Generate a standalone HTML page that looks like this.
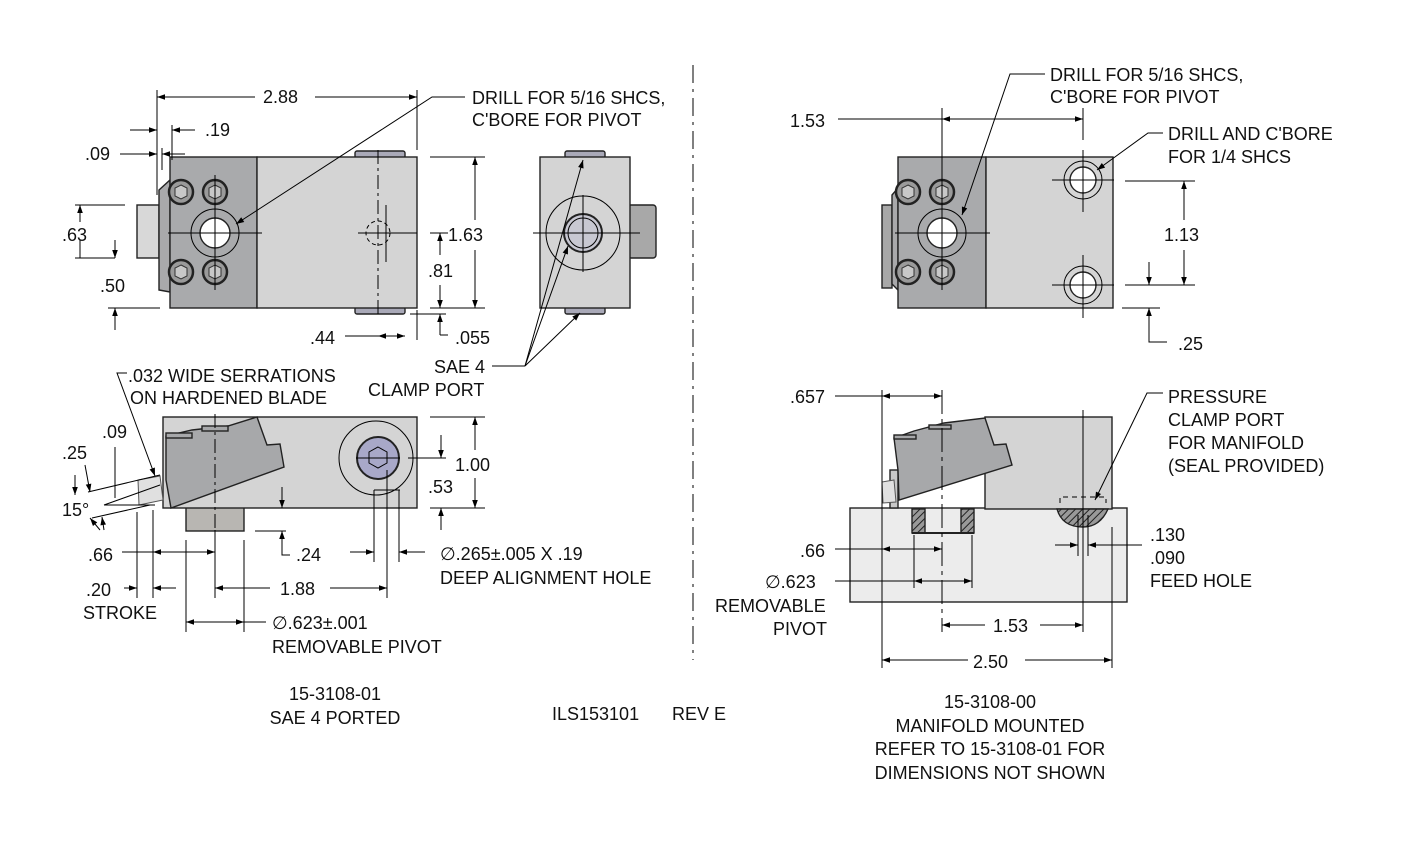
<!DOCTYPE html>
<html><head><meta charset="utf-8"><style>
html,body{margin:0;padding:0;background:#fff}
svg{display:block}
text{font-family:"Liberation Sans",sans-serif;font-size:18px;fill:#111}
.l{stroke:#000;stroke-width:1;fill:none}
.o{stroke:#222;stroke-width:1.4}
</style></head><body>
<svg width="1410" height="844" viewBox="0 0 1410 844" xmlns="http://www.w3.org/2000/svg">
<defs>
<marker id="a" viewBox="0 0 10 10" refX="10" refY="5" markerWidth="11" markerHeight="8" orient="auto-start-reverse" markerUnits="userSpaceOnUse"><path d="M0,1.5 L10,5 L0,8.5z" fill="#000"/></marker>
<pattern id="h" width="5" height="5" patternUnits="userSpaceOnUse" patternTransform="rotate(45)"><rect width="5" height="5" fill="#999"/><line x1="0" y1="0" x2="0" y2="5" stroke="#222" stroke-width="2"/></pattern>
</defs>

<line x1="693" y1="65" x2="693" y2="660" stroke="#000" stroke-dasharray="18,6,3,6"/>

<!-- ===== TOP LEFT VIEW ===== -->
<rect x="137" y="205" width="22" height="53" fill="#d8d8d8" class="o"/>
<path d="M159,190 L170,180 L170,292 L159,290z" fill="#a9a9ab" class="o"/>
<rect x="355" y="151" width="50" height="7" rx="2" fill="#a9a9b8" class="o"/>
<rect x="355" y="307" width="50" height="7" rx="2" fill="#a9a9b8" class="o"/>
<rect x="170" y="157" width="87" height="151" fill="#a9aaac" class="o"/>
<rect x="257" y="157" width="160" height="151" fill="#d4d4d4" class="o"/>
<g fill="#9a9a9a" stroke="#222" stroke-width="2.5">
<circle cx="181" cy="192" r="12"/><circle cx="215" cy="192" r="12"/><circle cx="181" cy="272" r="12"/><circle cx="215" cy="272" r="12"/></g>
<g fill="#c8c8c8" stroke="#333" stroke-width="1">
<polygon points="181,185 187,188 187,196 181,199 175,196 175,188"/><polygon points="215,185 221,188 221,196 215,199 209,196 209,188"/>
<polygon points="181,265 187,268 187,276 181,279 175,276 175,268"/><polygon points="215,265 221,268 221,276 215,279 209,276 209,268"/></g>
<circle cx="215" cy="233" r="24" fill="none" class="l"/>
<circle cx="215" cy="233" r="15" fill="#fff" class="o"/>
<line x1="168" y1="233" x2="262" y2="233" class="l"/><line x1="215" y1="175" x2="215" y2="290" class="l"/>
<line x1="358" y1="233" x2="417" y2="233" class="l"/><line x1="386" y1="205" x2="386" y2="262" class="l"/>
<circle cx="378" cy="233" r="12" fill="none" stroke="#000" stroke-dasharray="4,3"/>
<line x1="378" y1="150" x2="378" y2="318" stroke="#000" stroke-dasharray="14,4,3,4"/>
<line x1="157" y1="90" x2="157" y2="195" class="l"/><line x1="417" y1="90" x2="417" y2="150" class="l"/>
<line x1="157" y1="97" x2="255" y2="97" class="l" marker-start="url(#a)"/><line x1="315" y1="97" x2="417" y2="97" class="l" marker-end="url(#a)"/>
<text x="263" y="103">2.88</text>
<line x1="172" y1="125" x2="172" y2="160" class="l"/>
<line x1="130" y1="130" x2="157" y2="130" class="l" marker-end="url(#a)"/><line x1="195" y1="130" x2="172" y2="130" class="l" marker-end="url(#a)"/>
<text x="205" y="136">.19</text>
<line x1="162" y1="148" x2="162" y2="170" class="l"/>
<text x="85" y="160">.09</text>
<line x1="120" y1="154" x2="157" y2="154" class="l" marker-end="url(#a)"/><line x1="185" y1="154" x2="162" y2="154" class="l" marker-end="url(#a)"/>
<line x1="75" y1="205" x2="125" y2="205" class="l"/><line x1="75" y1="258" x2="115" y2="258" class="l"/>
<line x1="80" y1="222" x2="80" y2="205" class="l" marker-end="url(#a)"/><line x1="80" y1="240" x2="80" y2="258" class="l"/>
<line x1="115" y1="240" x2="115" y2="258" class="l" marker-end="url(#a)"/>
<text x="62" y="241">.63</text>
<text x="100" y="292">.50</text>
<line x1="108" y1="308" x2="160" y2="308" class="l"/><line x1="115" y1="330" x2="115" y2="308" class="l" marker-end="url(#a)"/>
<line x1="430" y1="157" x2="485" y2="157" class="l"/><line x1="430" y1="308" x2="485" y2="308" class="l"/>
<line x1="475" y1="220" x2="475" y2="157" class="l" marker-end="url(#a)"/><line x1="475" y1="250" x2="475" y2="308" class="l" marker-end="url(#a)"/>
<text x="448" y="241">1.63</text>
<line x1="430" y1="233" x2="448" y2="233" class="l"/>
<line x1="440" y1="255" x2="440" y2="233" class="l" marker-end="url(#a)"/><line x1="440" y1="285" x2="440" y2="308" class="l" marker-end="url(#a)"/>
<text x="428" y="277">.81</text>
<line x1="410" y1="314" x2="446" y2="314" class="l"/>
<line x1="440" y1="335" x2="440" y2="314" class="l" marker-end="url(#a)"/><line x1="440" y1="335" x2="448" y2="335" class="l"/>
<text x="455" y="344">.055</text>
<line x1="417" y1="310" x2="417" y2="340" class="l"/>
<text x="310" y="344">.44</text>
<line x1="345" y1="336" x2="378" y2="336" class="l"/><line x1="378" y1="336" x2="405" y2="336" class="l" marker-start="url(#a)" marker-end="url(#a)"/>
<polyline points="465,97 432,97 236,224" class="l" marker-end="url(#a)"/>
<text x="472" y="104">DRILL FOR 5/16 SHCS,</text>
<text x="472" y="126">C'BORE FOR PIVOT</text>

<!-- ===== TOP MIDDLE VIEW ===== -->
<rect x="628" y="205" width="28" height="53" rx="3" fill="#a8a8a8" class="o"/>
<rect x="565" y="151" width="40" height="7" rx="2" fill="#a9a9b8" class="o"/>
<rect x="565" y="307" width="40" height="7" rx="2" fill="#a9a9b8" class="o"/>
<rect x="540" y="157" width="90" height="151" fill="#d4d4d4" class="o"/>
<circle cx="583" cy="233" r="37" fill="none" class="l"/>
<circle cx="583" cy="233" r="19" fill="#c8c8d2" stroke="#222" stroke-width="2"/>
<circle cx="583" cy="233" r="15" fill="#d8dae0" class="l"/>
<line x1="533" y1="233" x2="640" y2="233" class="l"/><line x1="583" y1="195" x2="583" y2="272" class="l"/>
<line x1="525" y1="366" x2="583" y2="160" class="l" marker-end="url(#a)"/>
<line x1="525" y1="366" x2="568" y2="246" class="l" marker-end="url(#a)"/>
<line x1="525" y1="366" x2="580" y2="313" class="l" marker-end="url(#a)"/>
<line x1="492" y1="366" x2="525" y2="366" class="l"/>
<text x="434" y="373">SAE 4</text>
<text x="368" y="396">CLAMP PORT</text>

<!-- ===== BOTTOM LEFT VIEW ===== -->
<rect x="186" y="507" width="58" height="24" fill="#b8b6b2" class="o"/>
<rect x="163" y="417" width="254" height="91" fill="#d4d4d4" class="o"/>
<line x1="171" y1="440" x2="171" y2="508" class="l"/>
<polygon points="166,436 192,430 228,426 257,417 267,445 280,444 284,467 171,508 166,480" fill="#a7a8aa" class="o"/>
<rect x="166" y="433" width="26" height="5" fill="#a7a8aa" class="o"/>
<rect x="202" y="426" width="26" height="5" fill="#a7a8aa" class="o"/>
<polygon points="138,480 160,476 163,500 139,505" fill="#e0e0e0" stroke="#555" stroke-width="1"/>
<circle cx="376" cy="458" r="37" fill="none" class="l"/>
<circle cx="378" cy="458" r="21" fill="#a8a8c8" stroke="#222" stroke-width="2"/>
<polygon points="378,447 387,452 387,463 378,468 369,463 369,452" fill="none" class="l"/>
<line x1="356" y1="458" x2="400" y2="458" class="l"/>
<line x1="215" y1="414" x2="215" y2="530" stroke="#000" stroke-dasharray="14,4,3,4"/>
<line x1="374" y1="490" x2="400" y2="490" class="l"/>
<line x1="430" y1="417" x2="485" y2="417" class="l"/><line x1="430" y1="508" x2="485" y2="508" class="l"/>
<line x1="475" y1="450" x2="475" y2="417" class="l" marker-end="url(#a)"/><line x1="475" y1="478" x2="475" y2="508" class="l" marker-end="url(#a)"/>
<text x="455" y="471">1.00</text>
<line x1="408" y1="458" x2="446" y2="458" class="l"/>
<line x1="441" y1="435" x2="441" y2="458" class="l" marker-end="url(#a)"/><line x1="441" y1="530" x2="441" y2="508" class="l" marker-end="url(#a)"/>
<text x="428" y="493">.53</text>
<line x1="282" y1="487" x2="282" y2="508" class="l" marker-end="url(#a)"/>
<line x1="255" y1="531" x2="286" y2="531" class="l"/>
<polyline points="282,548 282,531" class="l" marker-end="url(#a)"/><polyline points="282,548 282,555 290,555" class="l"/>
<text x="296" y="561">.24</text>
<line x1="374" y1="490" x2="374" y2="562" class="l"/><line x1="399" y1="490" x2="399" y2="562" class="l"/>
<line x1="387" y1="470" x2="387" y2="598" class="l"/>
<line x1="350" y1="552" x2="374" y2="552" class="l" marker-end="url(#a)"/><line x1="425" y1="552" x2="399" y2="552" class="l" marker-end="url(#a)"/>
<text x="440" y="560">∅.265±.005 X .19</text>
<text x="440" y="584">DEEP ALIGNMENT HOLE</text>
<line x1="215" y1="588" x2="270" y2="588" class="l" marker-start="url(#a)"/><line x1="330" y1="588" x2="387" y2="588" class="l" marker-end="url(#a)"/>
<text x="280" y="595">1.88</text>
<line x1="215" y1="530" x2="215" y2="598" class="l"/>
<line x1="137" y1="512" x2="137" y2="598" class="l"/><line x1="153" y1="510" x2="153" y2="598" class="l"/>
<line x1="186" y1="540" x2="186" y2="632" class="l"/><line x1="244" y1="540" x2="244" y2="632" class="l"/>
<text x="88" y="561">.66</text>
<line x1="122" y1="552" x2="215" y2="552" class="l" marker-end="url(#a)"/><line x1="186" y1="552" x2="153" y2="552" class="l" marker-end="url(#a)"/>
<text x="86" y="596">.20</text>
<line x1="124" y1="588" x2="137" y2="588" class="l" marker-end="url(#a)"/><line x1="176" y1="588" x2="153" y2="588" class="l" marker-end="url(#a)"/>
<text x="83" y="619">STROKE</text>
<line x1="186" y1="622" x2="244" y2="622" class="l" marker-start="url(#a)" marker-end="url(#a)"/>
<line x1="244" y1="622" x2="266" y2="622" class="l"/>
<text x="272" y="629">∅.623±.001</text>
<text x="272" y="653">REMOVABLE PIVOT</text>
<polyline points="127,373 117,373 155,476" class="l" marker-end="url(#a)"/>
<text x="128" y="382">.032 WIDE SERRATIONS</text>
<text x="130" y="404">ON HARDENED BLADE</text>
<text x="62" y="459">.25</text><text x="102" y="438">.09</text><text x="62" y="516">15°</text>
<line x1="88" y1="492" x2="160" y2="475" class="l"/><line x1="92" y1="518" x2="150" y2="505" class="l"/>
<line x1="104" y1="505" x2="160" y2="485" class="l"/>
<line x1="85" y1="465" x2="90" y2="492" class="l" marker-end="url(#a)"/>
<line x1="115" y1="447" x2="115" y2="498" class="l"/><line x1="104" y1="505" x2="155" y2="505" class="l"/>
<line x1="75" y1="475" x2="75" y2="495" class="l" marker-end="url(#a)"/>
<line x1="100" y1="530" x2="90" y2="518" class="l" marker-end="url(#a)"/><line x1="104" y1="530" x2="102" y2="517" class="l" marker-end="url(#a)"/>

<text x="335" y="700" text-anchor="middle">15-3108-01</text>
<text x="335" y="724" text-anchor="middle">SAE 4 PORTED</text>
<text x="552" y="720">ILS153101</text><text x="672" y="720">REV E</text>
<text x="990" y="708" text-anchor="middle">15-3108-00</text>
<text x="990" y="732" text-anchor="middle">MANIFOLD MOUNTED</text>
<text x="990" y="755" text-anchor="middle">REFER TO 15-3108-01 FOR</text>
<text x="990" y="779" text-anchor="middle">DIMENSIONS NOT SHOWN</text>

<!-- ===== TOP RIGHT VIEW ===== -->
<rect x="882" y="205" width="10" height="83" fill="#a8a8a8" class="o"/>
<path d="M892,195 L898,188 L898,290 L892,284z" fill="#a9a9ab" class="o"/>
<rect x="898" y="157" width="88" height="151" fill="#a9aaac" class="o"/>
<rect x="986" y="157" width="127" height="151" fill="#d4d4d4" class="o"/>
<g fill="#9a9a9a" stroke="#222" stroke-width="2.5">
<circle cx="908" cy="192" r="12"/><circle cx="942" cy="192" r="12"/><circle cx="908" cy="272" r="12"/><circle cx="942" cy="272" r="12"/></g>
<g fill="#c8c8c8" stroke="#333" stroke-width="1">
<polygon points="908,185 914,188 914,196 908,199 902,196 902,188"/><polygon points="942,185 948,188 948,196 942,199 936,196 936,188"/>
<polygon points="908,265 914,268 914,276 908,279 902,276 902,268"/><polygon points="942,265 948,268 948,276 942,279 936,276 936,268"/></g>
<circle cx="942" cy="233" r="24" fill="none" class="l"/>
<circle cx="942" cy="233" r="15" fill="#fff" class="o"/>
<line x1="895" y1="233" x2="990" y2="233" class="l"/><line x1="942" y1="108" x2="942" y2="290" class="l"/>
<circle cx="1083" cy="180" r="19" fill="none" class="l"/><circle cx="1083" cy="180" r="13" fill="#fff" class="o"/>
<circle cx="1083" cy="285" r="19" fill="none" class="l"/><circle cx="1083" cy="285" r="13" fill="#fff" class="o"/>
<line x1="1052" y1="180" x2="1114" y2="180" class="l"/><line x1="1083" y1="150" x2="1083" y2="212" class="l"/>
<line x1="1052" y1="285" x2="1114" y2="285" class="l"/><line x1="1083" y1="255" x2="1083" y2="318" class="l"/>
<line x1="1083" y1="108" x2="1083" y2="140" class="l"/>
<text x="790" y="127">1.53</text>
<line x1="838" y1="119" x2="942" y2="119" class="l"/><line x1="942" y1="119" x2="1083" y2="119" class="l" marker-start="url(#a)" marker-end="url(#a)"/>
<polyline points="1045,74 1010,74 962,215" class="l" marker-end="url(#a)"/>
<text x="1050" y="81">DRILL FOR 5/16 SHCS,</text>
<text x="1050" y="103">C'BORE FOR PIVOT</text>
<polyline points="1163,133 1148,133 1097,170" class="l" marker-end="url(#a)"/>
<text x="1168" y="140">DRILL AND C'BORE</text>
<text x="1168" y="163">FOR 1/4 SHCS</text>
<line x1="1125" y1="181" x2="1195" y2="181" class="l"/><line x1="1125" y1="285" x2="1195" y2="285" class="l"/>
<line x1="1184" y1="220" x2="1184" y2="181" class="l" marker-end="url(#a)"/><line x1="1184" y1="250" x2="1184" y2="285" class="l" marker-end="url(#a)"/>
<text x="1164" y="241">1.13</text>
<line x1="1149" y1="262" x2="1149" y2="285" class="l" marker-end="url(#a)"/>
<line x1="1122" y1="308" x2="1160" y2="308" class="l"/>
<line x1="1149" y1="330" x2="1149" y2="308" class="l" marker-end="url(#a)"/><polyline points="1149,330 1149,342 1167,342" class="l"/>
<text x="1178" y="350">.25</text>

<!-- ===== BOTTOM RIGHT VIEW ===== -->
<rect x="850" y="508" width="277" height="94" fill="#ececec" class="o"/>
<rect x="985" y="417" width="127" height="92" fill="#d4d4d4" class="o"/>
<rect x="890" y="470" width="8" height="38" fill="#c8c8c8" class="o"/>
<polygon points="894,438 914,431 944,423 985,418 994,445 1006,444 1012,465 899,500 898,470" fill="#a7a8aa" class="o"/>
<rect x="894" y="435" width="22" height="4" fill="#a7a8aa" class="o"/>
<rect x="929" y="425" width="22" height="4" fill="#a7a8aa" class="o"/>
<polygon points="882,482 894,480 896,502 883,503" fill="#e0e0e0" stroke="#555"/>
<rect x="912" y="509" width="13" height="24" fill="url(#h)" class="o"/>
<rect x="961" y="509" width="13" height="24" fill="url(#h)" class="o"/>
<line x1="912" y1="533" x2="974" y2="533" stroke="#222" stroke-width="2"/>
<path d="M1057,509 L1108,509 Q1100,527 1083,527 Q1062,527 1057,509z" fill="url(#h)" class="o"/>
<path d="M1060,503 L1060,497 L1106,497 L1106,503" fill="none" stroke="#000" stroke-dasharray="5,4"/>
<line x1="882" y1="390" x2="882" y2="668" class="l"/>
<line x1="942" y1="390" x2="942" y2="632" stroke="#000" stroke-dasharray="24,5,4,5"/>
<line x1="1083" y1="410" x2="1083" y2="632" class="l"/>
<line x1="1112" y1="527" x2="1112" y2="668" class="l"/>
<text x="790" y="403">.657</text>
<line x1="835" y1="396" x2="882" y2="396" class="l"/><line x1="882" y1="396" x2="942" y2="396" class="l" marker-start="url(#a)" marker-end="url(#a)"/>
<text x="800" y="557">.66</text>
<line x1="835" y1="549" x2="882" y2="549" class="l"/><line x1="882" y1="549" x2="942" y2="549" class="l" marker-start="url(#a)" marker-end="url(#a)"/>
<line x1="914" y1="535" x2="914" y2="588" class="l"/><line x1="972" y1="535" x2="972" y2="588" class="l"/>
<text x="765" y="588">∅.623</text>
<line x1="835" y1="581" x2="914" y2="581" class="l"/><line x1="914" y1="581" x2="972" y2="581" class="l" marker-start="url(#a)" marker-end="url(#a)"/>
<text x="715" y="612">REMOVABLE</text>
<text x="773" y="635">PIVOT</text>
<line x1="942" y1="625" x2="985" y2="625" class="l" marker-start="url(#a)"/><line x1="1040" y1="625" x2="1083" y2="625" class="l" marker-end="url(#a)"/>
<text x="993" y="632">1.53</text>
<line x1="882" y1="660" x2="968" y2="660" class="l" marker-start="url(#a)"/><line x1="1025" y1="660" x2="1112" y2="660" class="l" marker-end="url(#a)"/>
<text x="973" y="668">2.50</text>
<line x1="1078" y1="515" x2="1078" y2="556" class="l"/><line x1="1088" y1="515" x2="1088" y2="556" class="l"/>
<line x1="1055" y1="545" x2="1078" y2="545" class="l" marker-end="url(#a)"/><line x1="1142" y1="545" x2="1088" y2="545" class="l" marker-end="url(#a)"/>
<text x="1150" y="541">.130</text><text x="1150" y="564">.090</text><text x="1150" y="587">FEED HOLE</text>
<polyline points="1163,393 1147,393 1095,500" class="l" marker-end="url(#a)"/>
<text x="1168" y="403">PRESSURE</text>
<text x="1168" y="426">CLAMP PORT</text>
<text x="1168" y="449">FOR MANIFOLD</text>
<text x="1168" y="472">(SEAL PROVIDED)</text>
</svg>
</body></html>
